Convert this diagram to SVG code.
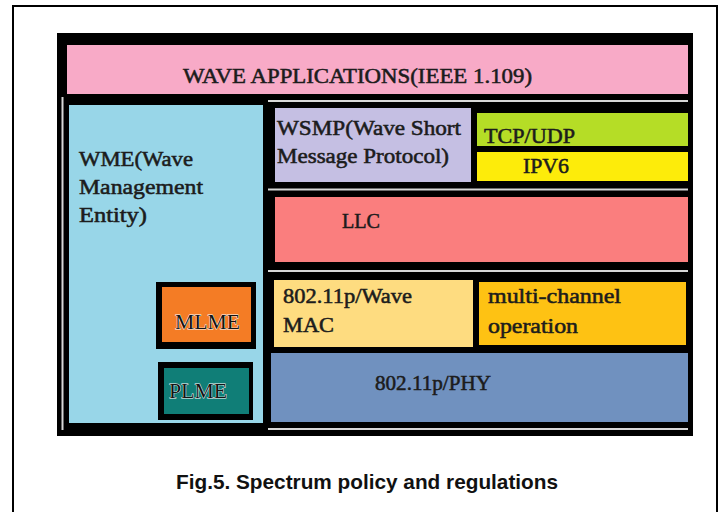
<svg xmlns="http://www.w3.org/2000/svg" width="722" height="512" viewBox="0 0 722 512">
  <defs>
    <style>
      .lbl { font-family: "Liberation Serif", "DejaVu Serif", serif; font-size: 21.5px; fill: #1c1c1c; stroke: #1c1c1c; stroke-width: 0.55px; }
      .emb { font-family: "Liberation Serif", "DejaVu Serif", serif; font-size: 21.5px; fill: #141414; stroke: #ffffff; stroke-width: 0.8px; paint-order: stroke; }
      .sep { stroke: #d8d8d8; stroke-width: 2; }
      .cap { font-family: "Liberation Sans", Arial, sans-serif; font-size: 21px; font-weight: bold; fill: #111; }
    </style>
  </defs>

  <!-- page background and outer figure frame -->
  <rect x="0" y="0" width="722" height="512" fill="#ffffff"/>
  <rect x="13" y="6" width="704" height="520" fill="none" stroke="#000" stroke-width="2"/>

  <!-- black backing of the protocol stack -->
  <rect x="57" y="33" width="636" height="403" fill="#000"/>

  <!-- separator lines -->
  <g id="separators">
    <line class="sep" x1="62.5" y1="97" x2="62.5" y2="430"/>
    <line class="sep" x1="268" y1="101" x2="688" y2="101"/>
    <line class="sep" x1="268" y1="189.5" x2="688" y2="189.5"/>
    <line class="sep" x1="268" y1="271" x2="688" y2="271" stroke="#f4f4f4" stroke-width="3"/>
    <line class="sep" x1="268" y1="429" x2="688" y2="429"/>
  </g>

  <g id="wave-applications">
    <rect x="67" y="45" width="621" height="49" fill="#F8AAC7"/>
    <text class="lbl" x="183" y="83" textLength="349" lengthAdjust="spacingAndGlyphs">WAVE APPLICATIONS(IEEE 1.109)</text>
  </g>

  <g id="wme">
    <rect x="69" y="105" width="194" height="318" fill="#98D6E8"/>
    <text class="lbl" x="79" y="166" textLength="114" lengthAdjust="spacingAndGlyphs">WME(Wave</text>
    <text class="lbl" x="79" y="194" textLength="124" lengthAdjust="spacingAndGlyphs">Management</text>
    <text class="lbl" x="79" y="222" textLength="68" lengthAdjust="spacingAndGlyphs">Entity)</text>
  </g>

  <g id="mlme">
    <rect x="156" y="282" width="100" height="67" fill="#000"/>
    <rect x="162" y="287" width="89" height="55" fill="#F47C25"/>
    <text class="emb" x="175" y="329" textLength="65" lengthAdjust="spacingAndGlyphs">MLME</text>
  </g>

  <g id="plme">
    <rect x="158" y="362" width="95" height="58" fill="#000"/>
    <rect x="164" y="368" width="85" height="46" fill="#107E77"/>
    <text class="emb" x="169" y="398" textLength="58" lengthAdjust="spacingAndGlyphs">PLME</text>
  </g>

  <g id="wsmp">
    <rect x="275" y="108" width="196" height="74" fill="#C5BFE3"/>
    <text class="lbl" x="277" y="135" textLength="184" lengthAdjust="spacingAndGlyphs">WSMP(Wave Short</text>
    <text class="lbl" x="277" y="163" textLength="172" lengthAdjust="spacingAndGlyphs">Message Protocol)</text>
  </g>

  <g id="tcp-udp">
    <rect x="477" y="113" width="211" height="33" fill="#B5DD26"/>
    <text class="lbl" x="484" y="143" textLength="91" lengthAdjust="spacingAndGlyphs">TCP/UDP</text>
  </g>

  <g id="ipv6">
    <rect x="477" y="152" width="211" height="29" fill="#FDEC0A"/>
    <text class="lbl" x="523" y="173" textLength="46" lengthAdjust="spacingAndGlyphs">IPV6</text>
  </g>

  <g id="llc">
    <rect x="275" y="197" width="413" height="65" fill="#FA7E7E"/>
    <text class="lbl" x="342" y="228" textLength="38" lengthAdjust="spacingAndGlyphs">LLC</text>
  </g>

  <g id="wave-mac">
    <rect x="274" y="280" width="199" height="67" fill="#FEDC80"/>
    <text class="lbl" x="283" y="303" textLength="129" lengthAdjust="spacingAndGlyphs">802.11p/Wave</text>
    <text class="lbl" x="283" y="332" textLength="51" lengthAdjust="spacingAndGlyphs">MAC</text>
  </g>

  <g id="multi-channel">
    <rect x="479" y="282" width="207" height="63" fill="#FEC213"/>
    <text class="lbl" x="488" y="303" textLength="133" lengthAdjust="spacingAndGlyphs">multi-channel</text>
    <text class="lbl" x="488" y="333" textLength="90" lengthAdjust="spacingAndGlyphs">operation</text>
  </g>

  <g id="phy">
    <rect x="271" y="353" width="417" height="69" fill="#7091BF"/>
    <text class="lbl" x="375" y="390" textLength="116" lengthAdjust="spacingAndGlyphs">802.11p/PHY</text>
  </g>

  <!-- figure caption -->
  <text class="cap" x="176" y="489" textLength="382" lengthAdjust="spacingAndGlyphs">Fig.5. Spectrum policy and regulations</text>
</svg>
